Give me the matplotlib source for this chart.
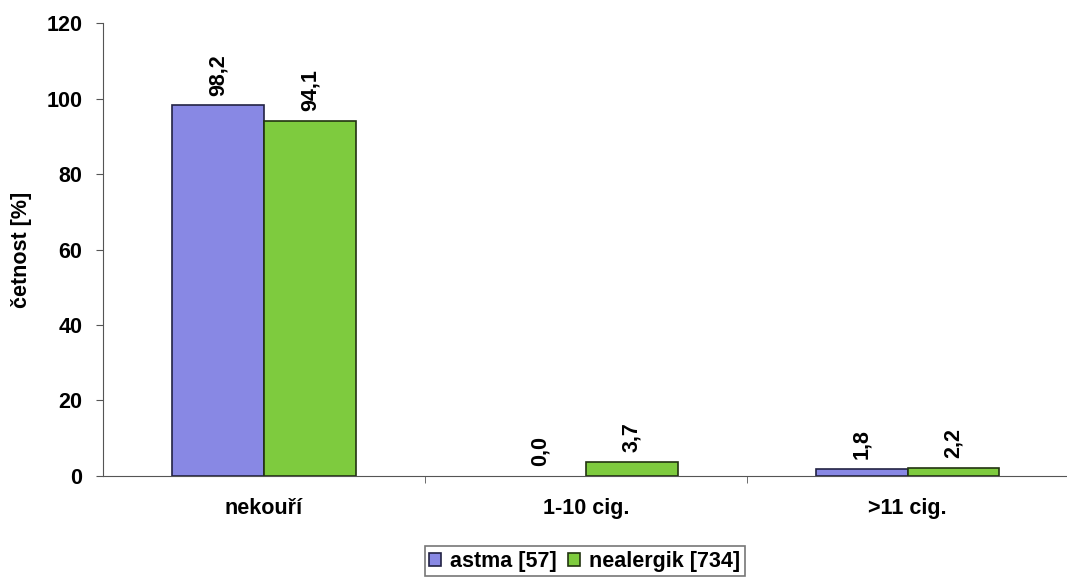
import matplotlib.pyplot as plt
import numpy as np

categories = ['nekouří', '1-10 cig.', '>11 cig.']
astma = [98.2, 0.0, 1.8]
nealergik = [94.1, 3.7, 2.2]
series_names = ['astma [57]', 'nealergik [734]']
value_labels_astma = ['98,2', '0,0', '1,8']
value_labels_nealergik = ['94,1', '3,7', '2,2']

plt.rcParams['font.family'] = ['Liberation Sans', 'DejaVu Sans']
plt.rcParams['font.weight'] = 'bold'

fs = 15.5
fig = plt.figure(figsize=(10.67, 5.81), dpi=100)
ax = fig.add_axes([0.0965, 0.181, 0.905, 0.779])

x = np.arange(len(categories))
w = 0.285
b1 = ax.bar(x - w / 2, astma, w, color='#8888E4', edgecolor='#222244', linewidth=1.2, label=series_names[0])
b2 = ax.bar(x + w / 2, nealergik, w, color='#7ECB3E', edgecolor='#223311', linewidth=1.2, label=series_names[1])

# nulovy sloupec se nekresli
for bar in list(b1) + list(b2):
    if bar.get_height() == 0:
        bar.set_linewidth(0)

for bars, labs in ((b1, value_labels_astma), (b2, value_labels_nealergik)):
    for bar, lab in zip(bars, labs):
        ax.text(bar.get_x() + bar.get_width() / 2, bar.get_height() + 2.6, lab,
                rotation=90, ha='center', va='bottom', fontsize=fs, fontweight='bold')

ax.set_xlim(-0.5, 2.5)
ax.set_ylim(0, 120)
ax.set_yticks(range(0, 121, 20))
ax.set_xticks(x)
ax.set_xticklabels(categories, fontsize=fs, fontweight='bold')
ax.set_xticks([0.5, 1.5], minor=True)
ax.tick_params(axis='x', which='major', length=0, pad=16)
ax.tick_params(axis='x', which='minor', length=5, color='#555555')
ax.tick_params(axis='y', labelsize=fs, length=5, color='#555555', pad=10)
ax.set_ylabel('četnost [%]', fontsize=fs, fontweight='bold', labelpad=10)

for s in ['top', 'right']:
    ax.spines[s].set_visible(False)
ax.spines['left'].set_color('#555555')
ax.spines['bottom'].set_color('#555555')

leg = fig.legend(loc='center', bbox_to_anchor=(0.548, 0.034), ncol=2, frameon=True,
                 fancybox=False, edgecolor='#555555', fontsize=fs, handlelength=0.55,
                 handleheight=0.55, handletextpad=0.45, columnspacing=0.5,
                 borderpad=0.2, borderaxespad=0)
leg.get_frame().set_linewidth(1.2)
for t in leg.get_texts():
    t.set_fontweight('bold')

plt.savefig('out.png')
